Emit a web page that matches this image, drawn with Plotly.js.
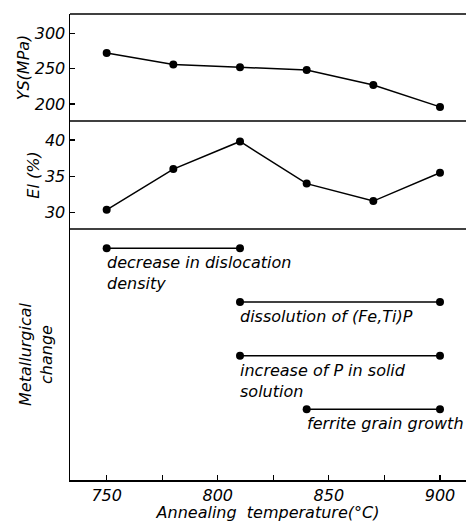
<!DOCTYPE html>
<html>
<head>
<meta charset="utf-8">
<script src="https://cdn.plot.ly/plotly-3.0.1.min.js"></script>
<style>html,body{margin:0;padding:0;background:#fff;}#chart{width:468px;height:522px;}</style>
</head>
<body>
<div id="chart"></div>
<script>
// Data
const temps = [750, 780, 810, 840, 870, 900];
const ysValues = [272, 256, 252, 248, 227, 196];
const elValues = [30.4, 36.0, 39.8, 34.0, 31.6, 35.5];

const changeLabels = [
  "decrease in dislocation<br>density",
  "dissolution of (Fe,Ti)P",
  "increase of P in solid<br>solution",
  "ferrite grain growth"
];
const changeStart = [750, 810, 810, 840];
const changeEnd = [810, 900, 900, 900];
const changeLevel = [4, 3, 2, 1];

const xTickVals = [750, 800, 850, 900];

const FONT = "DejaVu Sans, sans-serif";
const black = "#000";

const traces = [
  {x: temps, y: ysValues, xaxis: 'x', yaxis: 'y', mode: 'lines+markers',
   line: {color: black, width: 1.5}, marker: {color: black, size: 8}, showlegend: false, hoverinfo: 'x+y'},
  {x: temps, y: elValues, xaxis: 'x', yaxis: 'y2', mode: 'lines+markers',
   line: {color: black, width: 1.5}, marker: {color: black, size: 8}, showlegend: false, hoverinfo: 'x+y'}
];
const annotations = [];
for (let i = 0; i < changeLabels.length; i++) {
  traces.push({
    x: [changeStart[i], changeEnd[i]], y: [changeLevel[i], changeLevel[i]],
    xaxis: 'x', yaxis: 'y3', mode: 'lines+markers',
    line: {color: black, width: 1.5}, marker: {color: black, size: 8},
    showlegend: false, hoverinfo: 'x', name: changeLabels[i].replace('<br>', ' ')
  });
  annotations.push({
    x: changeStart[i], y: changeLevel[i], xref: 'x', yref: 'y3',
    text: changeLabels[i], showarrow: false, xanchor: 'left', yanchor: 'top',
    align: 'left', xshift: -2, yshift: -3,
    font: {family: FONT, size: 16, color: black, style: 'italic'}
  });
}

const tickFont = {family: FONT, size: 16, color: black, style: 'italic'};
const titleFont = {family: FONT, size: 16, color: black, style: 'italic'};

const d1 = 251 / 466, d2 = 359 / 466;

const layout = {
  width: 468, height: 522,
  margin: {l: 70, r: 2, t: 14, b: 42},
  paper_bgcolor: '#fff', plot_bgcolor: '#fff',
  showlegend: false,
  xaxis: {
    anchor: 'y3', range: [733.5, 911.7], tickvals: xTickVals,
    ticks: 'inside', ticklen: 5, tickwidth: 1.2, tickcolor: black,
    minor: {dtick: 25, tick0: 750, ticks: 'inside', ticklen: 5, tickwidth: 1.2, tickcolor: black, showgrid: false},
    showline: true, linecolor: black, linewidth: 1.5, showgrid: false, zeroline: false,
    tickfont: tickFont,
    title: {text: 'Annealing  temperature(°C)', font: titleFont, standoff: 1}
  },
  yaxis: {
    domain: [d2, 1], anchor: 'x', range: [176.1, 327.2],
    tickvals: [200, 250, 300], ticks: 'inside', ticklen: 5, tickwidth: 1.2, tickcolor: black,
    showline: true, linecolor: black, linewidth: 1.5, showgrid: false, zeroline: false,
    tickfont: tickFont,
    title: {text: 'YS(MPa)', font: titleFont, standoff: 1}
  },
  yaxis2: {
    domain: [d1, d2], anchor: 'x', range: [27.76, 42.61],
    tickvals: [30, 35, 40], ticks: 'inside', ticklen: 5, tickwidth: 1.2, tickcolor: black,
    showline: true, linecolor: black, linewidth: 1.5, showgrid: false, zeroline: false,
    tickfont: tickFont,
    title: {text: 'El (%)', font: titleFont, standoff: 1}
  },
  yaxis3: {
    domain: [0, d1], anchor: 'x', range: [-0.317, 4.36],
    showticklabels: false, ticks: '',
    showline: true, linecolor: black, linewidth: 1.5, showgrid: false, zeroline: false,
    title: {text: 'Metallurgical<br>change', font: titleFont, standoff: 12}
  },
  shapes: [
    {type: 'line', xref: 'paper', yref: 'paper', x0: 0, x1: 1, y0: 1, y1: 1, line: {color: black, width: 1.5}},
    {type: 'line', xref: 'paper', yref: 'paper', x0: 0, x1: 1, y0: d2, y1: d2, line: {color: black, width: 1.5}},
    {type: 'line', xref: 'paper', yref: 'paper', x0: 0, x1: 1, y0: d1, y1: d1, line: {color: black, width: 1.5}}
  ],
  annotations: annotations
};

Plotly.newPlot('chart', traces, layout, {displayModeBar: false, staticPlot: true});
</script>
</body>
</html>
